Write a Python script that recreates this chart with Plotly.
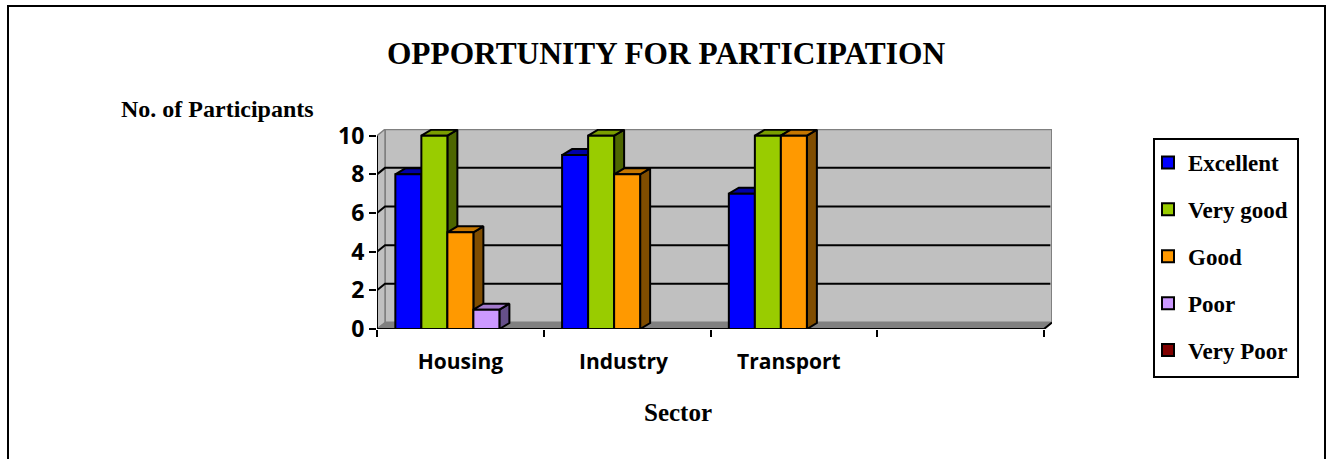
import plotly.graph_objects as go

# Data
sectors = ["Housing", "Industry", "Transport"]
series_names = ["Excellent", "Very good", "Good", "Poor", "Very Poor"]
excellent = [8, 9, 7]
very_good = [10, 10, 10]
good = [5, 8, 10]
poor = [1, 0, 0]
very_poor = [0, 0, 0]
y_ticks = [0, 2, 4, 6, 8, 10]

series_values = [excellent, very_good, good, poor, very_poor]
front_colors = ["#0000ff", "#99cc00", "#ff9900", "#cc99ff", "#800000"]
top_colors = ["#0000a8", "#7a9e00", "#c67700", "#a37acc", "#600000"]
side_colors = ["#000080", "#4d6600", "#804d00", "#66508a", "#400000"]

# Page geometry in pixels
W, H = 1331, 459
LEFT, RIGHT, TOP, BOTTOM = 377, 1052, 129, 329
CAT_PX = 166.75
UNIT_PX = 19.33
WALL_DX, WALL_DY = 8, 6.5
BAR_DX, BAR_DY = 10, 6
BAR_GAP = 0.22
LABEL_NUDGE = [0.0, -0.022, -0.03]  # category labels sit slightly left of centre

n_cats = 4
x_range = [-0.5, n_cats - 0.5 + WALL_DX / CAT_PX]
y_range = [0, (BOTTOM - TOP) / UNIT_PX]
wdx, wdy = WALL_DX / CAT_PX, WALL_DY / UNIT_PX
bdx, bdy = BAR_DX / CAT_PX, BAR_DY / UNIT_PX
x0, x1 = -0.5, n_cats - 0.5
y_max = max(y_ticks)


def px_x(px):
    return (px - LEFT) / (RIGHT - LEFT)


def px_y(px):
    return (BOTTOM - px) / (BOTTOM - TOP)


def poly(xs, ys, fill, line="#000000", width=1.5):
    return go.Scatter(
        x=xs + xs[:1], y=ys + ys[:1], mode="lines", fill="toself", fillcolor=fill,
        line=dict(color=line, width=width), showlegend=False, hoverinfo="skip",
        xaxis="x", yaxis="y",
    )


def seg(xs, ys, color="#000000", width=1.5):
    return go.Scatter(
        x=xs, y=ys, mode="lines", line=dict(color=color, width=width),
        showlegend=False, hoverinfo="skip", xaxis="x", yaxis="y",
    )


fig = go.Figure()

# Walls and floor of the 3D box
fig.add_trace(poly([x0 + wdx, x1 + wdx, x1 + wdx, x0 + wdx],
                   [wdy, wdy, y_max + wdy, y_max + wdy], "#c0c0c0", "#808080", 2))
fig.add_trace(poly([x0, x0 + wdx, x0 + wdx, x0],
                   [0, wdy, y_max + wdy, y_max], "#c0c0c0", "#808080", 1.5))
for v in y_ticks[1:-1]:
    fig.add_trace(seg([x0, x0 + wdx, x1 + wdx - 0.01], [v, v + wdy, v + wdy], width=2))
fig.add_trace(poly([x0, x1, x1 + wdx, x0 + wdx], [0, 0, wdy, wdy], "#808080", "#808080", 1))
fig.add_trace(seg([x0, x0], [0, y_max], width=2))
fig.add_trace(seg([x0, x1, x1 + wdx], [0, 0, wdy], width=2))

# Side and top faces, painted left to right
slot = (1 - BAR_GAP) / len(series_values)
for c in range(len(sectors)):
    for i, vals in enumerate(series_values):
        v = vals[c]
        if not v:
            continue
        left = c - (1 - BAR_GAP) / 2 + i * slot
        right = left + slot
        fig.add_trace(poly([right, right + bdx, right + bdx, right],
                           [0, bdy, v + bdy, v], side_colors[i], width=2))
        fig.add_trace(poly([left, right, right + bdx, left + bdx],
                           [v, v, v + bdy, v + bdy], top_colors[i], width=2))

# Front faces on an overlay axis pair so they sit above the depth faces
for i, vals in enumerate(series_values):
    fig.add_trace(go.Bar(
        x=list(range(len(sectors))), y=[v or None for v in vals], name=series_names[i],
        marker=dict(color=front_colors[i], line=dict(color="#000000", width=2)),
        legendgroup=series_names[i], xaxis="x2", yaxis="y2",
    ))

serif = "Liberation Serif"
frame = dict(type="rect", xref="paper", yref="paper", line=dict(color="#000000", width=2),
             x0=px_x(8), x1=px_x(1325), y0=px_y(480), y1=px_y(6))
legend_box = dict(type="rect", xref="paper", yref="paper", line=dict(color="#000000", width=2),
                  x0=px_x(1154), x1=px_x(1298), y0=px_y(377), y1=px_y(139))

fig.update_layout(
    width=W, height=H, autosize=False,
    margin=dict(l=LEFT, r=W - RIGHT, t=TOP, b=H - BOTTOM, autoexpand=False),
    paper_bgcolor="#ffffff", plot_bgcolor="rgba(0,0,0,0)",
    barmode="group", bargap=BAR_GAP, bargroupgap=0,
    title=dict(text="<b>OPPORTUNITY FOR PARTICIPATION</b>", x=666 / W, y=1 - 53 / H,
               xanchor="center", yanchor="middle",
               font=dict(family=serif, size=31.4, color="#000000")),
    xaxis=dict(range=x_range, tickmode="array",
               tickvals=[i + LABEL_NUDGE[i] for i in range(len(sectors))],
               ticktext=sectors, ticks="", showgrid=False, zeroline=False, showline=False,
               tickfont=dict(family="Open Sans", size=21, weight=700, color="#000000"),
               ticklabelstandoff=18,
               minor=dict(tickmode="array", tickvals=[x0 + k for k in range(n_cats + 1)],
                          ticks="outside", ticklen=7, tickwidth=2, tickcolor="#000000",
                          showgrid=False)),
    yaxis=dict(range=y_range, tickmode="array", tickvals=y_ticks, ticks="outside", ticklen=7,
               tickwidth=2, tickcolor="#000000", showgrid=False, zeroline=False, showline=False,
               tickfont=dict(family="Open Sans", size=23, weight=700, color="#000000")),
    xaxis2=dict(range=x_range, overlaying="x", visible=False),
    yaxis2=dict(range=y_range, overlaying="y", visible=False),
    legend=dict(x=px_x(1148), y=px_y(141), xanchor="left", yanchor="top",
                bgcolor="rgba(0,0,0,0)", borderwidth=0, maxheight=320,
                traceorder="grouped", tracegroupgap=14, itemclick=False,
                font=dict(family=serif, size=23, weight=700, color="#000000")),
    shapes=[frame, legend_box],
    annotations=[
        dict(text="<b>No. of Participants</b>", xref="paper", yref="paper", x=px_x(119),
             y=px_y(109), xanchor="left", yanchor="middle", showarrow=False,
             font=dict(family=serif, size=24, color="#000000")),
        dict(text="<b>Sector</b>", xref="paper", yref="paper", x=px_x(678), y=px_y(412),
             xanchor="center", yanchor="middle", showarrow=False,
             font=dict(family=serif, size=25, color="#000000")),
    ],
)

fig.write_html("out.html", config=dict(displayModeBar=False),
               post_script="document.body.style.margin='0';")
